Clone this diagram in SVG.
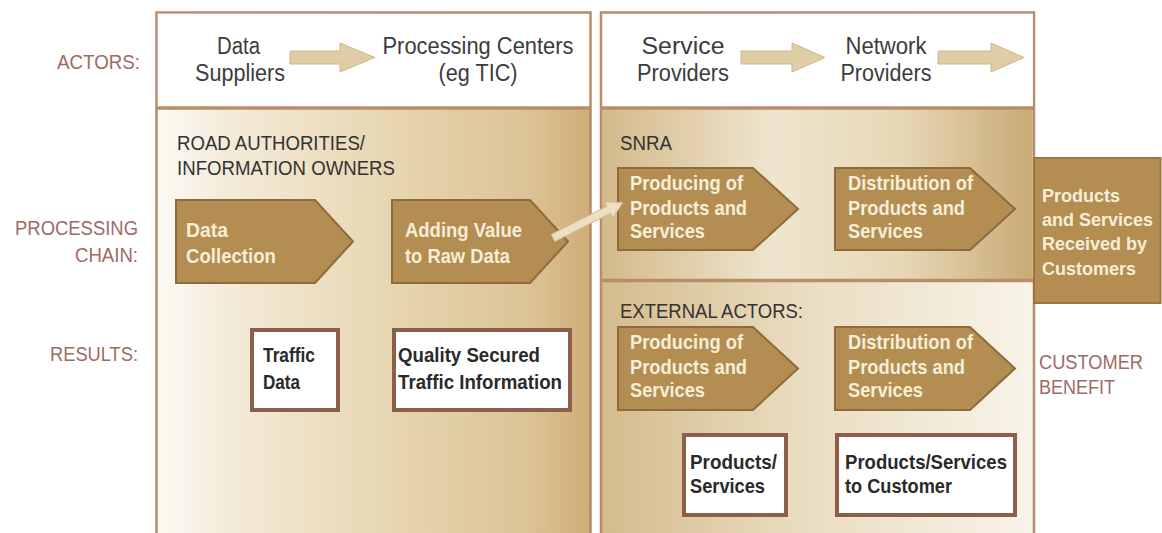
<svg xmlns="http://www.w3.org/2000/svg" width="1162" height="533" viewBox="0 0 1162 533">
<defs>
<linearGradient id="gLeft" gradientUnits="userSpaceOnUse" x1="156" y1="0" x2="590" y2="0">
<stop offset="0" stop-color="#fdfbf6"/><stop offset="0.15" stop-color="#f4ecdb"/><stop offset="0.5" stop-color="#e8d8b4"/><stop offset="0.85" stop-color="#dcc497"/><stop offset="1" stop-color="#cfae78"/>
</linearGradient>
<linearGradient id="gSnra" gradientUnits="userSpaceOnUse" x1="601" y1="0" x2="1034" y2="0">
<stop offset="0" stop-color="#d3b98a"/><stop offset="0.4" stop-color="#efe5ce"/><stop offset="0.7" stop-color="#e6d7b5"/><stop offset="1" stop-color="#c9aa76"/>
</linearGradient>
<linearGradient id="gExt" gradientUnits="userSpaceOnUse" x1="601" y1="0" x2="1034" y2="0">
<stop offset="0" stop-color="#d4bb8c"/><stop offset="0.45" stop-color="#e9dcbf"/><stop offset="1" stop-color="#f8f4ea"/>
</linearGradient>
</defs>
<style>
text{font-family:"Liberation Sans",Arial,sans-serif}
.lbl{font-size:20px;fill:#9c6b66}
.hdr{font-size:23px;fill:#3c3c3c}
.sec{font-size:21px;fill:#333333}
.pt{font-size:21px;font-weight:bold;fill:#f6eed6}
.pb{font-size:18px;font-weight:bold;fill:#f6eed6}
.rt{font-size:21px;font-weight:bold;fill:#2a2a2a}
.pent{fill:#b38d52;stroke:#8e6a3c;stroke-width:2}
.res{fill:#ffffff;stroke:#8d5e4a;stroke-width:4}
.panel{stroke:#bb8a6c;stroke-width:2.5}
.sep{stroke:#b98d68;stroke-width:3.5}
.harrow{fill:#dfcda6;stroke:#cdb78c;stroke-width:1}
.carrow{fill:#ecdfc4;stroke:#d0b991;stroke-width:1}
</style>
<rect x="0" y="0" width="1162" height="533" fill="#ffffff"/>

<g id="labels">
<text class="lbl" x="140" y="69" text-anchor="end" textLength="83" lengthAdjust="spacingAndGlyphs">ACTORS:</text>
<text class="lbl" x="138" y="235" text-anchor="end" textLength="123" lengthAdjust="spacingAndGlyphs">PROCESSING</text>
<text class="lbl" x="138" y="262" text-anchor="end" textLength="63" lengthAdjust="spacingAndGlyphs">CHAIN:</text>
<text class="lbl" x="138" y="361" text-anchor="end" textLength="88" lengthAdjust="spacingAndGlyphs">RESULTS:</text>
<text class="lbl" x="1039" y="369" textLength="104" lengthAdjust="spacingAndGlyphs">CUSTOMER</text>
<text class="lbl" x="1039" y="394" textLength="76" lengthAdjust="spacingAndGlyphs">BENEFIT</text>
</g>

<g id="panel-left">
<rect class="panel" x="156.5" y="12.5" width="434" height="530" fill="url(#gLeft)"/>
<rect x="157.8" y="13.8" width="431.4" height="94" fill="#ffffff"/>
<line class="sep" x1="157" y1="108" x2="590" y2="108"/>
<text class="sec" x="177" y="150" textLength="188" lengthAdjust="spacingAndGlyphs">ROAD AUTHORITIES/</text>
<text class="sec" x="177" y="175" textLength="218" lengthAdjust="spacingAndGlyphs">INFORMATION OWNERS</text>
</g>

<g id="panel-right">
<rect class="panel" x="601" y="12.5" width="433" height="530" fill="url(#gExt)"/>
<rect x="602.3" y="109" width="430.4" height="171" fill="url(#gSnra)"/>
<rect x="602.3" y="13.8" width="430.4" height="94" fill="#ffffff"/>
<line class="sep" x1="602" y1="108" x2="1034" y2="108"/>
<line class="sep" x1="602" y1="280.5" x2="1034" y2="280.5" stroke-width="3"/>
<text class="sec" x="620" y="150" textLength="52" lengthAdjust="spacingAndGlyphs">SNRA</text>
<text class="sec" x="620" y="318" textLength="183" lengthAdjust="spacingAndGlyphs">EXTERNAL ACTORS:</text>
</g>

<g id="actor-data-suppliers">
<text class="hdr" x="238.5" y="54" text-anchor="middle" textLength="43" lengthAdjust="spacingAndGlyphs">Data</text>
<text class="hdr" x="240" y="81" text-anchor="middle" textLength="90" lengthAdjust="spacingAndGlyphs">Suppliers</text>
</g>
<g id="actor-processing-centers">
<text class="hdr" x="478" y="54" text-anchor="middle" textLength="191" lengthAdjust="spacingAndGlyphs">Processing Centers</text>
<text class="hdr" x="478" y="81" text-anchor="middle" textLength="79" lengthAdjust="spacingAndGlyphs">(eg TIC)</text>
</g>
<g id="actor-service-providers">
<text class="hdr" x="683" y="54" text-anchor="middle" textLength="83" lengthAdjust="spacingAndGlyphs">Service</text>
<text class="hdr" x="683" y="81" text-anchor="middle" textLength="92" lengthAdjust="spacingAndGlyphs">Providers</text>
</g>
<g id="actor-network-providers">
<text class="hdr" x="886" y="54" text-anchor="middle" textLength="81" lengthAdjust="spacingAndGlyphs">Network</text>
<text class="hdr" x="886" y="81" text-anchor="middle" textLength="91" lengthAdjust="spacingAndGlyphs">Providers</text>
</g>

<g id="step-data-collection">
<polygon class="pent" points="176,200 315,200 353,241.5 315,283 176,283"/>
<text class="pt" x="186" y="237" textLength="42" lengthAdjust="spacingAndGlyphs">Data</text>
<text class="pt" x="186" y="263" textLength="90" lengthAdjust="spacingAndGlyphs">Collection</text>
</g>
<g id="step-adding-value">
<polygon class="pent" points="392,200 530,200 568,241.5 530,283 392,283"/>
<text class="pt" x="405" y="237" textLength="117" lengthAdjust="spacingAndGlyphs">Adding Value</text>
<text class="pt" x="405" y="263" textLength="105" lengthAdjust="spacingAndGlyphs">to Raw Data</text>
</g>
<g id="snra-producing">
<polygon class="pent" points="618,168 753,168 798,209 753,250 618,250"/>
<text class="pt" x="630" y="190" textLength="113" lengthAdjust="spacingAndGlyphs">Producing of</text>
<text class="pt" x="630" y="215" textLength="117" lengthAdjust="spacingAndGlyphs">Products and</text>
<text class="pt" x="630" y="238" textLength="75" lengthAdjust="spacingAndGlyphs">Services</text>
</g>
<g id="snra-distribution">
<polygon class="pent" points="835,168 970,168 1015,209 970,250 835,250"/>
<text class="pt" x="848" y="190" textLength="125" lengthAdjust="spacingAndGlyphs">Distribution of</text>
<text class="pt" x="848" y="215" textLength="117" lengthAdjust="spacingAndGlyphs">Products and</text>
<text class="pt" x="848" y="238" textLength="75" lengthAdjust="spacingAndGlyphs">Services</text>
</g>
<g id="ext-producing">
<polygon class="pent" points="618,327 753,327 798,368.5 753,410 618,410"/>
<text class="pt" x="630" y="349" textLength="113" lengthAdjust="spacingAndGlyphs">Producing of</text>
<text class="pt" x="630" y="374" textLength="117" lengthAdjust="spacingAndGlyphs">Products and</text>
<text class="pt" x="630" y="397" textLength="75" lengthAdjust="spacingAndGlyphs">Services</text>
</g>
<g id="ext-distribution">
<polygon class="pent" points="835,327 970,327 1015,368.5 970,410 835,410"/>
<text class="pt" x="848" y="349" textLength="125" lengthAdjust="spacingAndGlyphs">Distribution of</text>
<text class="pt" x="848" y="374" textLength="117" lengthAdjust="spacingAndGlyphs">Products and</text>
<text class="pt" x="848" y="397" textLength="75" lengthAdjust="spacingAndGlyphs">Services</text>
</g>
<g id="products-received">
<rect x="1034" y="158" width="126.5" height="145" fill="#b38d52" stroke="#9a7540" stroke-width="2"/>
<text class="pb" x="1042" y="202">Products</text>
<text class="pb" x="1042" y="226">and Services</text>
<text class="pb" x="1042" y="250">Received by</text>
<text class="pb" x="1042" y="275">Customers</text>
</g>

<g id="result-traffic-data">
<rect class="res" x="252" y="330" width="86" height="80"/>
<text class="rt" x="263" y="362" textLength="52" lengthAdjust="spacingAndGlyphs">Traffic</text>
<text class="rt" x="263" y="389" textLength="37" lengthAdjust="spacingAndGlyphs">Data</text>
</g>
<g id="result-quality-info">
<rect class="res" x="394" y="330" width="176" height="80"/>
<text class="rt" x="398" y="362" textLength="142" lengthAdjust="spacingAndGlyphs">Quality Secured</text>
<text class="rt" x="398" y="389" textLength="164" lengthAdjust="spacingAndGlyphs">Traffic Information</text>
</g>
<g id="result-products-services">
<rect class="res" x="684" y="435" width="102" height="80"/>
<text class="rt" x="690" y="469" textLength="87" lengthAdjust="spacingAndGlyphs">Products/</text>
<text class="rt" x="690" y="493" textLength="75" lengthAdjust="spacingAndGlyphs">Services</text>
</g>
<g id="result-products-customer">
<rect class="res" x="837" y="435" width="178" height="80"/>
<text class="rt" x="845" y="469" textLength="162" lengthAdjust="spacingAndGlyphs">Products/Services</text>
<text class="rt" x="845" y="493" textLength="107" lengthAdjust="spacingAndGlyphs">to Customer</text>
</g>

<g id="connectors">
<polygon class="harrow" points="290,51 340,51 340,43 375,57.5 340,72 340,64 290,64"/>
<polygon class="harrow" points="741,51 792,51 792,43 825,57.5 792,72 792,64 741,64"/>
<polygon class="harrow" points="938,51 991,51 991,43 1024,57.5 991,72 991,64 938,64"/>
<polygon class="carrow" points="551.2,234.4 606.9,206.2 604.6,201.7 623,202.5 612.8,217.8 610.5,213.3 554.8,241.6"/>
</g>
</svg>
